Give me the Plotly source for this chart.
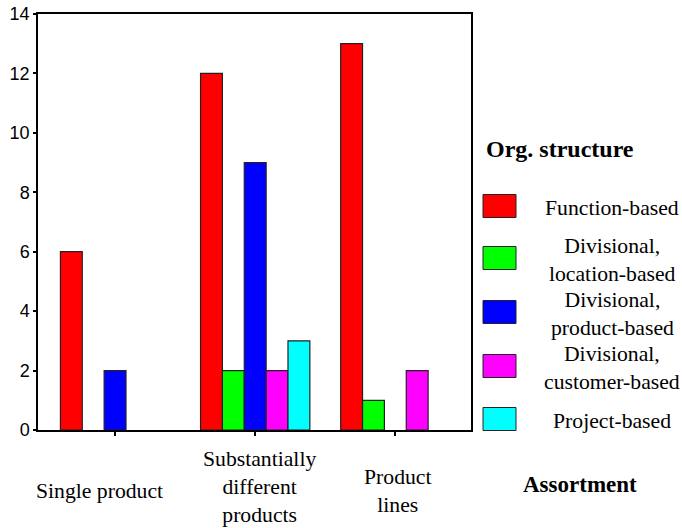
import plotly.graph_objects as go

categories = ["Single product", "Substantially different products", "Product lines"]
category_labels = ["Single product", "Substantially<br>different<br>products", "Product<br>lines"]
label_shift = [-16, 4, 2]
label_yshift = [0, 4, 0]
series_names = ["Function-based", "Divisional, location-based", "Divisional, product-based",
                "Divisional, customer-based", "Project-based"]
legend_labels = ["Function-based", "Divisional,<br>location-based", "Divisional,<br>product-based",
                 "Divisional,<br>customer-based", "Project-based"]
series_values = [
    [6, 12, 13],
    [0, 2, 1],
    [2, 9, 0],
    [0, 2, 2],
    [0, 3, 0],
]
colors = ["#ff0000", "#00ff00", "#0000ff", "#ff00ff", "#00ffff"]
y_ticks = [0, 2, 4, 6, 8, 10, 12, 14]

fig = go.Figure()
for name, vals, col in zip(series_names, series_values, colors):
    fig.add_trace(go.Bar(
        x=list(range(len(categories))), y=vals, name=name,
        marker=dict(color=col,
                    line=dict(color="#222222", width=[1.2 if v > 0 else 0 for v in vals])),
        showlegend=False,
    ))

serif = "Liberation Serif, Times New Roman, serif"
sans = "Liberation Sans, Arial, sans-serif"

plot_top, plot_h = 14, 416
plot_left, plot_w = 38, 433


def px_x(x):
    return (x - plot_left) / plot_w


def px_y(y):
    return 1 - (y - plot_top) / plot_h


# Category labels under the groups, vertically centred
for i, (lab, dx, dy) in enumerate(zip(category_labels, label_shift, label_yshift)):
    fig.add_annotation(x=i, y=px_y(491), xref="x", yref="paper", text=lab, showarrow=False,
                       xshift=dx, yshift=dy, font=dict(family=serif, size=21.7, color="black"),
                       xanchor="center", yanchor="middle", align="center")

fig.add_annotation(x=px_x(580), y=px_y(484), xref="paper", yref="paper", text="<b>Assortment</b>",
                   showarrow=False, font=dict(family=serif, size=23, color="black"),
                   xanchor="center", yanchor="middle")

# Custom legend block
fig.add_annotation(x=px_x(484), y=px_y(149), xref="paper", yref="paper", text="<b>Org. structure</b>",
                   showarrow=False, font=dict(family=serif, size=24, color="black"),
                   xanchor="left", yanchor="middle")

swatch_px = [206, 258, 312, 366, 419]
for yc, lab, col in zip(swatch_px, legend_labels, colors):
    fig.add_shape(type="rect", xref="paper", yref="paper",
                  x0=px_x(483), x1=px_x(516), y0=px_y(yc + 11.5), y1=px_y(yc - 11.5),
                  fillcolor=col, line=dict(color="#222222", width=1))
    fig.add_annotation(x=px_x(612), y=px_y(yc + 2),
                       xref="paper", yref="paper", text=lab, showarrow=False,
                       font=dict(family=serif, size=21.7, color="black"),
                       xanchor="center", yanchor="middle", align="center")

fig.update_layout(
    width=682, height=528,
    margin=dict(l=38, r=211, t=14, b=98, autoexpand=False),
    paper_bgcolor="white", plot_bgcolor="white",
    barmode="group", bargap=0.22, bargroupgap=0,
    xaxis=dict(range=[-0.55, 2.54], tickvals=[0, 1, 2], ticktext=["", "", ""],
               showgrid=False, zeroline=False, showline=True, linecolor="black", linewidth=1.5,
               mirror=True, ticks="outside", ticklen=4, tickcolor="black", tickwidth=2),
    yaxis=dict(range=[0, 14], tickvals=y_ticks, showgrid=False, zeroline=False,
               showline=True, linecolor="black", linewidth=1.5, mirror=True,
               ticks="outside", ticklen=3, tickcolor="black", tickwidth=2,
               tickfont=dict(family=sans, size=18, color="black")),
)

fig.write_html("out.html")
